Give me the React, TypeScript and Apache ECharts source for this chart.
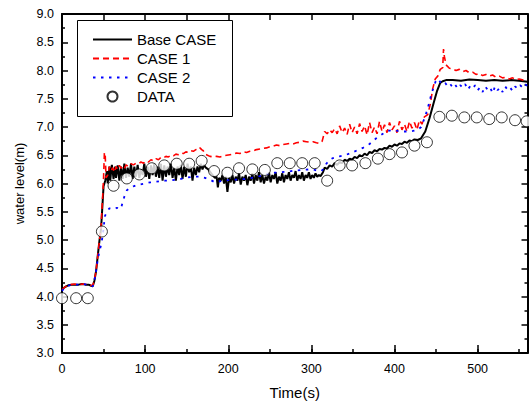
import React, { useEffect, useRef } from "react";
import * as echarts from "echarts";

const seriesNames = ["Base CASE", "CASE 1", "CASE 2", "DATA"];

const baseCase: [number, number][] = [
  [0, 4.12], [2, 4.15], [5, 4.18], [8, 4.2], [12, 4.21], [16, 4.21], [20, 4.21], [24, 4.22], [28, 4.21], [32, 4.21],
  [35, 4.19], [37, 4.18], [39, 4.28], [41, 4.45], [43, 4.72], [45, 4.98], [47, 5.2], [49, 5.7], [50, 5.95], [52, 6.05],
  [54, 6.22], [55, 6.0], [57, 6.3], [58, 6.05], [60, 6.33], [62, 6.08], [64, 6.3], [65, 6.1], [67, 6.32], [69, 6.05],
  [71, 6.3], [73, 6.08], [75, 6.35], [77, 6.1], [79, 6.28], [81, 6.12], [83, 6.35], [85, 6.08], [87, 6.3], [89, 6.12],
  [91, 6.33], [93, 6.1], [95, 6.25], [97, 6.15], [99, 6.35], [101, 6.12], [103, 6.3], [105, 6.08], [107, 6.32], [109, 6.15],
  [111, 6.35], [113, 6.12], [115, 6.3], [117, 6.1], [119, 6.35], [121, 6.05], [123, 6.32], [125, 6.12], [127, 6.3], [129, 6.15],
  [131, 6.35], [133, 6.1], [135, 6.28], [137, 6.05], [139, 6.3], [141, 6.15], [143, 6.33], [145, 6.08], [147, 6.3], [149, 6.12],
  [151, 6.35], [153, 6.2], [155, 6.3], [157, 6.05], [159, 6.28], [161, 6.15], [163, 6.3], [165, 6.2], [167, 6.35], [169, 6.25],
  [171, 6.33], [173, 6.28], [176, 6.25], [180, 6.17], [184, 6.1], [186, 6.12], [187.5, 5.93], [189, 6.1], [191, 6.05], [193, 6.15],
  [195, 6.0], [197, 6.12], [199, 5.85], [201, 6.1], [203, 6.02], [205, 6.15], [207, 6.0], [209, 6.12], [211, 6.05], [213, 6.18],
  [215, 5.98], [217, 6.12], [219, 6.05], [221, 6.15], [223, 5.97], [225, 6.12], [227, 6.05], [229, 6.18], [231, 6.0], [233, 6.15],
  [235, 6.05], [237, 6.2], [239, 6.02], [241, 6.15], [243, 6.0], [245, 6.12], [247, 6.05], [249, 6.2], [251, 6.02], [253, 6.15],
  [255, 6.08], [257, 6.2], [259, 6.0], [261, 6.12], [263, 6.05], [265, 6.18], [267, 6.02], [269, 6.15], [271, 6.08], [273, 6.2],
  [275, 6.05], [277, 6.15], [279, 6.1], [281, 6.22], [283, 6.05], [285, 6.15], [287, 6.08], [289, 6.2], [291, 6.05], [293, 6.15],
  [295, 6.1], [297, 6.2], [299, 6.08], [301, 6.15], [303, 6.1], [305, 6.18], [307, 6.12], [309, 6.15], [311, 6.13],
  [314, 6.2], [316, 6.28], [319, 6.26], [322, 6.32], [325, 6.3], [328, 6.36], [331, 6.33], [334, 6.38], [337, 6.36], [340, 6.42],
  [343, 6.4], [346, 6.44], [349, 6.42], [352, 6.47], [355, 6.45], [358, 6.5], [361, 6.48], [364, 6.53], [367, 6.5], [370, 6.56],
  [373, 6.54], [376, 6.59], [379, 6.57], [382, 6.61], [385, 6.6], [388, 6.63], [391, 6.62], [394, 6.67], [397, 6.65], [400, 6.69],
  [403, 6.67], [406, 6.71], [409, 6.7], [412, 6.74], [415, 6.72], [418, 6.76], [421, 6.75], [424, 6.78], [428, 6.77], [432, 6.8],
  [437, 6.92], [442, 7.15], [447, 7.42], [451, 7.63], [455, 7.78], [458, 7.81], [462, 7.83], [470, 7.83], [480, 7.82], [490, 7.84],
  [500, 7.83], [510, 7.82], [520, 7.83], [530, 7.82], [540, 7.83], [550, 7.82], [560, 7.8],
];

const case1: [number, number][] = [
  [0, 4.12], [3, 4.16], [6, 4.19], [10, 4.21], [15, 4.22], [20, 4.21], [25, 4.22], [30, 4.21], [35, 4.2], [37, 4.19],
  [39, 4.3], [41, 4.45], [43, 4.72], [45, 4.98], [47, 5.25], [49, 5.8], [50, 6.1], [51, 6.55], [52, 6.5], [53, 6.1],
  [55, 6.15], [57, 6.3], [59, 6.22], [61, 6.28], [63, 6.2], [65, 6.3], [67, 6.25], [69, 6.32], [71, 6.27], [73, 6.3],
  [75, 6.26], [77, 6.33], [80, 6.3], [83, 6.35], [86, 6.33], [89, 6.36], [92, 6.35], [95, 6.38], [98, 6.36], [101, 6.4],
  [104, 6.38], [107, 6.42], [110, 6.4], [113, 6.44], [116, 6.42], [119, 6.46], [122, 6.45], [125, 6.48], [128, 6.47], [131, 6.5],
  [134, 6.49], [137, 6.52], [140, 6.51], [143, 6.54], [146, 6.53], [149, 6.56], [152, 6.55], [155, 6.58], [158, 6.57], [161, 6.6],
  [164, 6.59], [166, 6.63], [168, 6.6], [170, 6.58], [172, 6.52], [175, 6.5], [178, 6.48], [182, 6.47], [186, 6.48], [190, 6.47],
  [194, 6.49], [198, 6.5], [202, 6.51], [206, 6.52], [210, 6.54], [214, 6.53], [218, 6.56], [222, 6.55], [226, 6.57], [230, 6.58],
  [234, 6.6], [238, 6.61], [242, 6.62], [246, 6.63], [250, 6.65], [254, 6.66], [258, 6.68], [262, 6.67], [266, 6.69], [270, 6.7],
  [274, 6.71], [278, 6.7], [282, 6.72], [286, 6.73], [290, 6.75], [294, 6.74], [298, 6.73], [302, 6.74], [306, 6.72], [310, 6.71],
  [313, 6.75], [316, 6.92], [319, 6.88], [322, 6.95], [325, 6.9], [328, 6.97], [331, 6.88], [334, 7.02], [337, 6.9], [340, 6.98],
  [343, 6.87], [346, 7.05], [349, 6.9], [352, 7.0], [355, 6.88], [358, 7.06], [361, 6.92], [364, 7.02], [367, 6.86], [370, 7.08],
  [373, 6.9], [376, 7.0], [379, 6.88], [382, 7.1], [385, 6.92], [388, 7.04], [391, 6.9], [394, 7.08], [397, 6.95], [400, 7.02],
  [403, 6.9], [406, 7.1], [409, 6.95], [412, 7.05], [415, 6.92], [418, 7.1], [421, 6.98], [424, 7.08], [427, 6.95], [430, 7.12],
  [433, 7.05], [436, 7.18], [440, 7.22], [443, 7.4], [446, 7.68], [449, 7.85], [452, 7.9], [455, 8.02], [458, 8.05], [459, 8.38],
  [460, 8.25], [462, 8.1], [466, 8.04], [470, 8.03], [474, 8.0], [478, 8.02], [482, 7.98], [486, 8.0], [490, 7.96], [494, 7.97],
  [498, 7.93], [502, 7.95], [506, 7.91], [510, 7.93], [514, 7.9], [518, 7.92], [522, 7.88], [526, 7.9], [530, 7.87], [534, 7.88],
  [538, 7.85], [542, 7.87], [546, 7.84], [550, 7.85], [555, 7.83], [560, 7.82],
];

const case2: [number, number][] = [
  [0, 4.1], [3, 4.15], [6, 4.18], [10, 4.2], [15, 4.21], [20, 4.21], [25, 4.22], [30, 4.21], [35, 4.19], [37, 4.18],
  [39, 4.28], [41, 4.45], [43, 4.65], [45, 4.8], [47.5, 4.94], [50, 5.2], [51.5, 5.42], [54, 5.5], [57, 5.56], [60, 5.56],
  [63, 5.55], [66, 5.57], [69, 5.55], [71, 5.56], [73, 5.67], [75.5, 5.79], [78, 5.88], [82, 5.92], [86, 5.95], [90, 5.97],
  [96, 5.99], [100, 6.0], [106, 6.02], [112, 6.03], [118, 6.04], [124, 6.05], [132, 6.06], [140, 6.07], [148, 6.1], [158, 6.12],
  [166, 6.12], [172, 6.1], [178, 6.07], [184, 6.02], [190, 6.04], [200, 6.06], [210, 6.07], [220, 6.08], [228, 6.1], [238, 6.13],
  [246, 6.16], [254, 6.19], [264, 6.2], [272, 6.21], [280, 6.23], [290, 6.24], [298, 6.25], [304, 6.24], [308, 6.22], [312, 6.22],
  [314, 6.25], [318, 6.35], [322, 6.42], [326, 6.45], [334, 6.48], [340, 6.5], [346, 6.53], [354, 6.58], [362, 6.63], [370, 6.7],
  [378, 6.8], [386, 6.88], [392, 6.93], [398, 6.95], [404, 6.93], [410, 6.92], [416, 6.92], [422, 6.93], [428, 6.95], [432, 7.0],
  [436, 7.15], [440, 7.33], [444, 7.56], [447, 7.7], [450, 7.83], [452, 7.85], [455, 7.8], [458, 7.75], [461, 7.78], [464, 7.72],
  [467, 7.76], [470, 7.7], [473, 7.75], [476, 7.68], [479, 7.74], [482, 7.7], [485, 7.76], [488, 7.66], [491, 7.72], [494, 7.68],
  [497, 7.74], [500, 7.65], [503, 7.7], [506, 7.62], [509, 7.72], [512, 7.66], [515, 7.7], [518, 7.6], [521, 7.72], [524, 7.65],
  [527, 7.7], [530, 7.62], [533, 7.72], [536, 7.66], [539, 7.7], [542, 7.64], [545, 7.72], [548, 7.68], [551, 7.74], [554, 7.7],
  [557, 7.76], [560, 7.72],
];

const measured: [number, number][] = [
  [0, 3.97], [17, 3.97], [31, 3.97], [48, 5.15], [62, 5.96], [78, 6.09], [93, 6.16], [108, 6.27], [123, 6.32], [138, 6.35],
  [153, 6.35], [168, 6.4], [183, 6.22], [199, 6.19], [213, 6.27], [229, 6.25], [244, 6.24], [259, 6.36], [274, 6.36], [289, 6.36],
  [304, 6.36], [319, 6.05], [334, 6.32], [349, 6.32], [365, 6.36], [380, 6.44], [394, 6.52], [409, 6.55], [424, 6.67], [439, 6.73],
  [454, 7.18], [469, 7.2], [484, 7.17], [499, 7.17], [514, 7.14], [529, 7.17], [545, 7.12], [559, 7.1],
];

const X_MIN = 0;
const X_MAX = 560;
const Y_MIN = 3;
const Y_MAX = 9;

const FONT = "'Liberation Sans', Arial, sans-serif";

export default function App() {
  const ref = useRef<HTMLDivElement>(null);

  useEffect(() => {
    if (!ref.current) return;
    const chart = echarts.init(ref.current, null, { renderer: "svg" });
    const black = "#000";
    const axisLine = { show: true, onZero: false, lineStyle: { color: black, width: 2 } };
    const hiddenSymbol = { opacity: 0 };

    chart.setOption({
      animation: false,
      backgroundColor: "#fff",
      textStyle: { fontFamily: FONT, color: black },
      grid: { left: 62, right: 1.5, top: 14, bottom: 47.5, containLabel: false },
      graphic: [
        {
          type: "rect",
          z: 5,
          shape: { x: 77.5, y: 20.5, width: 155, height: 96 },
          style: { fill: "#fff", stroke: black, lineWidth: 1 },
        },
      ],
      legend: {
        orient: "vertical",
        left: 77,
        top: 20,
        z: 6,
        data: [
          { name: seriesNames[0], itemStyle: hiddenSymbol },
          { name: seriesNames[1], itemStyle: hiddenSymbol },
          { name: seriesNames[2], itemStyle: hiddenSymbol },
          { name: seriesNames[3] },
        ],
        itemWidth: 39,
        itemHeight: 10,
        itemGap: 4,
        padding: [12, 17, 12, 15],
        borderWidth: 0,
        selectedMode: false,
        textStyle: { fontSize: 15, color: black, fontFamily: FONT, lineHeight: 15 },
      },
      xAxis: [
        {
          type: "value",
          position: "bottom",
          min: X_MIN,
          max: X_MAX,
          interval: 100,
          axisLine,
          axisTick: { show: true, inside: true, length: 8, lineStyle: { color: black, width: 1.5 } },
          axisLabel: { color: black, fontSize: 12.5, margin: 9, fontFamily: FONT, showMaxLabel: false },
          splitLine: { show: false },
          name: "Time(s)",
          nameLocation: "middle",
          nameGap: 32,
          nameTextStyle: { fontSize: 15, color: black, fontFamily: FONT },
        },
        {
          type: "value",
          position: "top",
          min: X_MIN,
          max: X_MAX,
          interval: 50,
          axisLine,
          axisTick: { show: true, inside: true, length: 6, lineStyle: { color: black, width: 1.5 } },
          axisLabel: { show: false },
          splitLine: { show: false },
        },
        {
          type: "value",
          position: "bottom",
          min: X_MIN,
          max: X_MAX,
          interval: 50,
          axisLine: { show: false },
          axisTick: { show: true, inside: true, length: 4, lineStyle: { color: black, width: 1.5 } },
          axisLabel: { show: false },
          splitLine: { show: false },
        },
      ],
      yAxis: [
        {
          type: "value",
          position: "left",
          min: Y_MIN,
          max: Y_MAX,
          interval: 0.5,
          axisLine,
          axisTick: { show: true, inside: true, length: 6, lineStyle: { color: black, width: 1.5 } },
          minorTick: { show: true, splitNumber: 2, length: 3, lineStyle: { color: black, width: 1.5 } },
          axisLabel: {
            color: black,
            fontSize: 12.5,
            margin: 8,
            fontFamily: FONT,
            formatter: (v: number) => v.toFixed(1),
          },
          splitLine: { show: false },
          minorSplitLine: { show: false },
          name: "water level(m)",
          nameLocation: "middle",
          nameGap: 33,
          nameRotate: 90,
          nameTextStyle: { fontSize: 13, color: black, fontFamily: FONT },
        },
        {
          type: "value",
          position: "right",
          min: Y_MIN,
          max: Y_MAX,
          interval: 0.5,
          axisLine,
          axisTick: { show: true, inside: true, length: 6, lineStyle: { color: black, width: 1.5 } },
          minorTick: { show: true, splitNumber: 2, length: 3, lineStyle: { color: black, width: 1.5 } },
          axisLabel: { show: false },
          splitLine: { show: false },
          minorSplitLine: { show: false },
        },
      ],
      series: [
        {
          name: seriesNames[0],
          type: "line",
          data: baseCase,
          symbol: "none",
          color: black,
          lineStyle: { color: black, width: 2, type: "solid" },
          z: 3,
        },
        {
          name: seriesNames[1],
          type: "line",
          data: case1,
          symbol: "none",
          color: "#ff0000",
          lineStyle: { color: "#ff0000", width: 1.6, type: [6, 4] },
          z: 3,
        },
        {
          name: seriesNames[2],
          type: "line",
          data: case2,
          symbol: "none",
          color: "#0000ff",
          lineStyle: { color: "#0000ff", width: 1.8, type: [2.5, 5.5] },
          z: 3,
        },
        {
          name: seriesNames[3],
          type: "scatter",
          data: measured,
          symbol: "circle",
          symbolSize: 11,
          itemStyle: { color: "#fff", borderColor: black, borderWidth: 1 },
          z: 4,
        },
      ],
    });

    return () => {
      chart.dispose();
    };
  }, []);

  return (
    <div
      ref={ref}
      style={{ position: "fixed", left: 0, top: 0, width: 529, height: 405, background: "#fff" }}
    />
  );
}
